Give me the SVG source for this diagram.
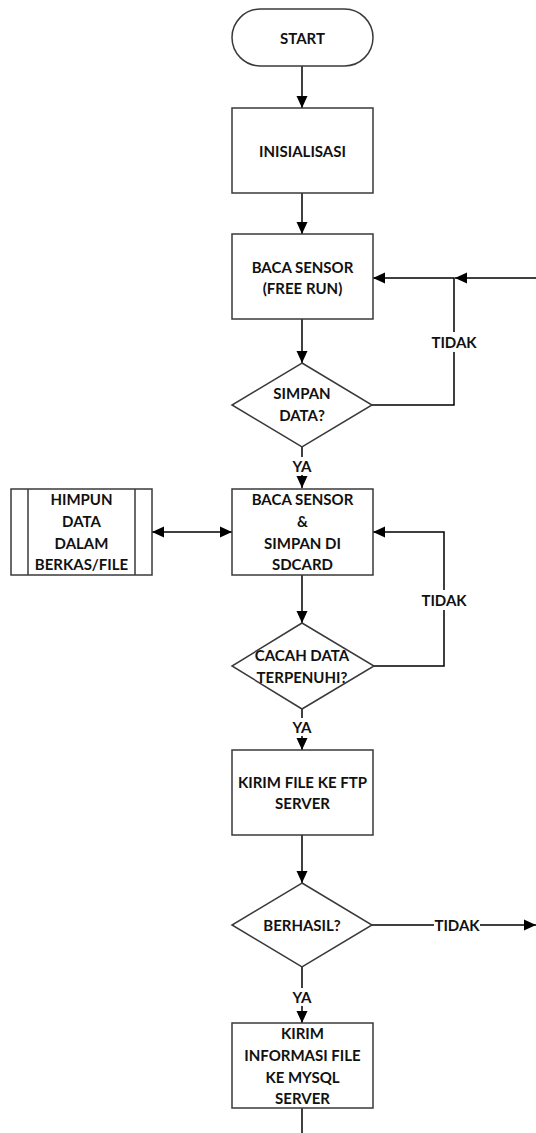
<svg xmlns="http://www.w3.org/2000/svg" width="536" height="1133" viewBox="0 0 536 1133">
<defs>
<marker id="ah" markerUnits="userSpaceOnUse" markerWidth="12" markerHeight="12" viewBox="0 0 12 12" refX="12" refY="6" orient="auto-start-reverse">
<path d="M0,0.5 L12,6 L0,11.5 Z" fill="#000"/>
</marker>
<style>
.sh{fill:#fff;stroke:#3a3a3a;stroke-width:1.5}
.ln{fill:none;stroke:#000;stroke-width:1.5}
.t{font-family:Lato,"Liberation Sans",sans-serif;font-weight:bold;font-size:15px;fill:#111;text-anchor:middle;dominant-baseline:central}
.bg{fill:#fff}
</style>
</defs>
<rect width="536" height="1133" fill="#fff"/>
<g id="connectors">
<line class="ln" x1="302" y1="66" x2="302" y2="108" marker-end="url(#ah)"/>
<line class="ln" x1="302" y1="193" x2="302" y2="234" marker-end="url(#ah)"/>
<line class="ln" x1="302" y1="319" x2="302" y2="363" marker-end="url(#ah)"/>
<polyline class="ln" points="372,405 454,405 454,278 373,278" marker-end="url(#ah)"/>
<line class="ln" x1="536" y1="278" x2="455" y2="278" marker-end="url(#ah)"/>
<line class="ln" x1="302" y1="447" x2="302" y2="488" marker-end="url(#ah)"/>
<line class="ln" x1="152" y1="532" x2="232" y2="532" marker-start="url(#ah)" marker-end="url(#ah)"/>
<line class="ln" x1="302" y1="575" x2="302" y2="623" marker-end="url(#ah)"/>
<polyline class="ln" points="374,666 444,666 444,532 373,532" marker-end="url(#ah)"/>
<line class="ln" x1="302" y1="709" x2="302" y2="750" marker-end="url(#ah)"/>
<line class="ln" x1="302" y1="835" x2="302" y2="883" marker-end="url(#ah)"/>
<line class="ln" x1="372" y1="925" x2="536" y2="925" marker-end="url(#ah)"/>
<line class="ln" x1="302" y1="967" x2="302" y2="1023" marker-end="url(#ah)"/>
<line class="ln" x1="302" y1="1108" x2="302" y2="1133"/>
<rect class="bg" x="426" y="332" width="56" height="20"/>
<text class="t" x="454" y="342">TIDAK</text>
<rect class="bg" x="416" y="590" width="56" height="20"/>
<text class="t" x="444" y="600">TIDAK</text>
<rect class="bg" x="434" y="916" width="46" height="18"/>
<text class="t" x="457" y="925">TIDAK</text>
<rect class="bg" x="289" y="457" width="26" height="18"/>
<text class="t" x="302" y="466">YA</text>
<rect class="bg" x="289" y="718" width="26" height="18"/>
<text class="t" x="302" y="727">YA</text>
<rect class="bg" x="289" y="988" width="26" height="18"/>
<text class="t" x="302" y="997">YA</text>
</g>
<g id="start">
<rect class="sh" x="232" y="9" width="141" height="57" rx="28.5"/>
<text class="t" x="302.5" y="38">START</text>
</g>
<g id="inisialisasi">
<rect class="sh" x="232" y="108" width="141" height="85"/>
<text class="t" x="302.5" y="151">INISIALISASI</text>
</g>
<g id="baca1">
<rect class="sh" x="232" y="234" width="141" height="85"/>
<text class="t" x="302.5" y="267">BACA SENSOR</text>
<text class="t" x="302.5" y="288">(FREE RUN)</text>
</g>
<g id="simpan">
<polygon class="sh" points="302,363 372,405 302,447 232,405"/>
<text class="t" x="302" y="393">SIMPAN</text>
<text class="t" x="302" y="415">DATA?</text>
</g>
<g id="himpun">
<rect class="sh" x="11" y="489" width="141" height="86"/>
<line class="sh" x1="28" y1="489" x2="28" y2="575"/>
<line class="sh" x1="135" y1="489" x2="135" y2="575"/>
<text class="t" x="81.5" y="499">HIMPUN</text>
<text class="t" x="81.5" y="521">DATA</text>
<text class="t" x="81.5" y="543">DALAM</text>
<text class="t" x="81.5" y="564">BERKAS/FILE</text>
</g>
<g id="baca2">
<rect class="sh" x="232" y="489" width="141" height="86"/>
<text class="t" x="302.5" y="499">BACA SENSOR</text>
<text class="t" x="302.5" y="521">&amp;</text>
<text class="t" x="302.5" y="543">SIMPAN DI</text>
<text class="t" x="302.5" y="564">SDCARD</text>
</g>
<g id="cacah">
<polygon class="sh" points="302,623 374,666 302,709 232,666"/>
<text class="t" x="302" y="655">CACAH DATA</text>
<text class="t" x="302" y="677">TERPENUHI?</text>
</g>
<g id="kirimftp">
<rect class="sh" x="232" y="750" width="141" height="85"/>
<text class="t" x="302.5" y="782">KIRIM FILE KE FTP</text>
<text class="t" x="302.5" y="803">SERVER</text>
</g>
<g id="berhasil">
<polygon class="sh" points="302,883 372,925 302,967 232,925"/>
<text class="t" x="302" y="925">BERHASIL?</text>
</g>
<g id="kirimmysql">
<rect class="sh" x="232" y="1023" width="141" height="85"/>
<text class="t" x="302.5" y="1033">KIRIM</text>
<text class="t" x="302.5" y="1055">INFORMASI FILE</text>
<text class="t" x="302.5" y="1077">KE MYSQL</text>
<text class="t" x="302.5" y="1098">SERVER</text>
</g>
</svg>
